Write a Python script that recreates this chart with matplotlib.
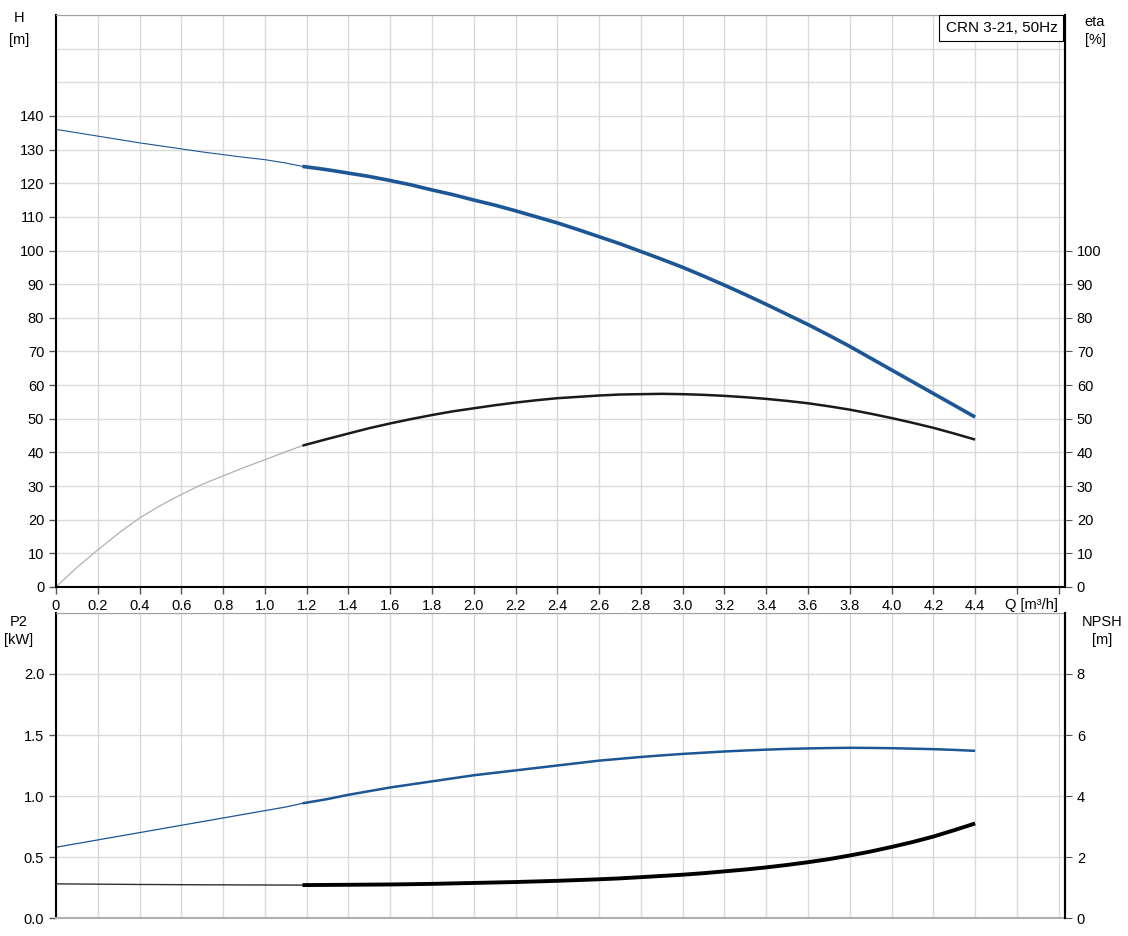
import numpy as np
import matplotlib.pyplot as plt

# Q [m3/h]
q_low = [0.0, 0.1, 0.2, 0.3, 0.4, 0.5, 0.6, 0.7, 0.8, 0.9, 1.0, 1.1, 1.18]
q_op = [1.18, 1.3, 1.4, 1.5, 1.6, 1.7, 1.8, 1.9, 2.0, 2.1, 2.2, 2.3, 2.4, 2.5, 2.6, 2.7, 2.8,
        2.9, 3.0, 3.1, 3.2, 3.3, 3.4, 3.5, 3.6, 3.7, 3.8, 3.9, 4.0, 4.1, 4.2, 4.3, 4.4]

# head H [m]
h_low = [136, 135, 134, 133, 132, 131.1, 130.2, 129.3, 128.5, 127.7, 127, 126, 125]
h_op = [125, 124, 123, 122, 120.8, 119.5, 118, 116.6, 115, 113.5, 111.8, 110, 108.2, 106.2,
        104.1, 102, 99.7, 97.4, 95, 92.4, 89.7, 86.9, 84, 81, 78, 74.8, 71.5, 68, 64.5, 61,
        57.5, 54, 50.5]

# efficiency eta [%]
eta_low = [0, 5.8, 11, 16, 20.5, 24.2, 27.5, 30.5, 33, 35.5, 37.8, 40.2, 42]
eta_op = [42, 44, 45.6, 47.2, 48.6, 49.9, 51.1, 52.2, 53.1, 54.0, 54.8, 55.5, 56.1, 56.5,
          56.9, 57.2, 57.3, 57.4, 57.3, 57.1, 56.8, 56.4, 55.9, 55.3, 54.6, 53.7, 52.7, 51.5,
          50.2, 48.8, 47.3, 45.6, 43.8]

# power P2 [kW]
p2_low = [0.58, 0.61, 0.64, 0.67, 0.70, 0.73, 0.76, 0.79, 0.82, 0.85, 0.88, 0.91, 0.94]
p2_op = [0.94, 0.975, 1.01, 1.04, 1.07, 1.095, 1.12, 1.145, 1.17, 1.19, 1.21, 1.23, 1.25,
         1.27, 1.29, 1.305, 1.32, 1.333, 1.345, 1.355, 1.365, 1.373, 1.38, 1.386, 1.39,
         1.393, 1.395, 1.394, 1.392, 1.388, 1.384, 1.378, 1.37]

# NPSH [m]
npsh_low = [1.12, 1.115, 1.11, 1.105, 1.10, 1.097, 1.093, 1.09, 1.088, 1.085, 1.083, 1.081, 1.08]
npsh_op = [1.08, 1.085, 1.09, 1.095, 1.1, 1.11, 1.12, 1.135, 1.15, 1.165, 1.18, 1.2, 1.22,
           1.245, 1.27, 1.3, 1.34, 1.38, 1.42, 1.47, 1.53, 1.59, 1.66, 1.74, 1.83, 1.93, 2.05,
           2.18, 2.33, 2.49, 2.67, 2.88, 3.1]

x_ticks = [0, 0.2, 0.4, 0.6, 0.8, 1.0, 1.2, 1.4, 1.6, 1.8, 2.0, 2.2, 2.4,
           2.6, 2.8, 3.0, 3.2, 3.4, 3.6, 3.8, 4.0, 4.2, 4.4]
x_labels = ['0'] + ['%.1f' % v for v in x_ticks[1:]]

blue = '#1c5694'
grid_c = '#dadada'
xmax = 4.83

plt.rcParams['font.family'] = ['Liberation Sans', 'DejaVu Sans']
plt.rcParams['font.size'] = 10.5

fig = plt.figure(figsize=(11.28, 9.36), dpi=100)
ax1 = fig.add_axes([0.0496, 0.3729, 0.8945, 0.6111])
ax2 = fig.add_axes([0.0496, 0.0192, 0.8945, 0.3259])


def setup(ax):
    ax.set_xlim(0, xmax)
    ax.set_xticks(np.arange(0, 4.81, 0.2))
    ax.grid(True, which='both', color=grid_c, linewidth=1)
    ax.set_axisbelow(True)
    for s in ['left', 'right']:
        ax.spines[s].set_color('black')
        ax.spines[s].set_linewidth(1.5)
    ax.spines['top'].set_color('#a0a0a0')
    ax.tick_params(length=5, width=1, color='#555555')
    ax.tick_params(which='minor', length=0)


# top panel: H and eta
setup(ax1)
ax1.set_ylim(0, 170)
ax1.set_yticks(range(0, 141, 10))
ax1.set_yticks([150, 160, 170], minor=True)
ax1.set_xticklabels(x_labels + ['', ''])
ax1.spines['bottom'].set_color('black')
ax1.spines['bottom'].set_linewidth(1.5)

ax1.plot(q_low, h_low, color=blue, lw=0.8)
ax1.plot(q_op, h_op, color=blue, lw=2.6, solid_capstyle='butt')
ax1.plot(q_low, eta_low, color='#b0b0b0', lw=0.9)
ax1.plot(q_op, eta_op, color='#1a1a1a', lw=1.8, solid_capstyle='butt')

ax1r = ax1.twinx()
ax1r.set_position(ax1.get_position())
ax1r.set_ylim(0, 170)
ax1r.set_yticks(range(0, 101, 10))
ax1r.spines['right'].set_linewidth(1.5)
ax1r.tick_params(length=5, color='#555555')
for s in ['left', 'top', 'bottom']:
    ax1r.spines[s].set_visible(False)

fig.text(0.0168, 0.981, 'H', ha='center', va='center', fontsize=10.5)
fig.text(0.0168, 0.957, '[m]', ha='center', va='center', fontsize=10.5)
fig.text(0.9707, 0.977, 'eta', ha='center', va='center', fontsize=10.5)
fig.text(0.9707, 0.957, '[%]', ha='center', va='center', fontsize=10.5)
ax1.text(4.67, -3.2, 'Q [m³/h]', ha='center', va='top', fontsize=10.5)
ax1.annotate('CRN 3-21, 50Hz', xy=(1, 1), xycoords='axes fraction',
             xytext=(-5.5, -4.6), textcoords='offset points', ha='right', va='top',
             fontsize=11, bbox=dict(boxstyle='square,pad=0.4', fc='white', ec='black', lw=0.8))

# bottom panel: P2 and NPSH
setup(ax2)
ax2.set_ylim(0, 2.5)
ax2.set_yticks([0, 0.5, 1.0, 1.5, 2.0])
ax2.set_yticks([2.5], minor=True)
ax2.set_yticklabels(['0.0', '0.5', '1.0', '1.5', '2.0'])
ax2.tick_params(axis='x', length=0, labelbottom=False)
ax2.spines['bottom'].set_color('#b0b0b0')
ax2.spines['bottom'].set_linewidth(1.5)

ax2.plot(q_low, p2_low, color=blue, lw=0.9)
ax2.plot(q_op, p2_op, color=blue, lw=1.8, solid_capstyle='butt')

ax2r = ax2.twinx()
ax2r.set_position(ax2.get_position())
ax2r.set_ylim(0, 10)
ax2r.set_yticks([0, 2, 4, 6, 8])
ax2r.spines['right'].set_linewidth(1.5)
ax2r.tick_params(length=5, color='#555555')
for s in ['left', 'top', 'bottom']:
    ax2r.spines[s].set_visible(False)
ax2r.plot(q_low, npsh_low, color='#303030', lw=1.0)
ax2r.plot(q_op, npsh_op, color='black', lw=2.8, solid_capstyle='butt')

fig.text(0.0168, 0.336, 'P2', ha='center', va='center', fontsize=10.5)
fig.text(0.0168, 0.316, '[kW]', ha='center', va='center', fontsize=10.5)
fig.text(0.977, 0.336, 'NPSH', ha='center', va='center', fontsize=10.5)
fig.text(0.977, 0.316, '[m]', ha='center', va='center', fontsize=10.5)

fig.savefig('out.png', dpi=100)
